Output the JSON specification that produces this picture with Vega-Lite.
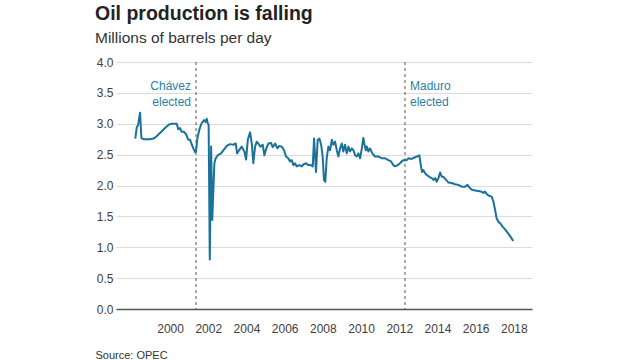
{
  "$schema": "https://vega.github.io/schema/vega-lite/v6.json",
  "autosize": {"type": "none"},
  "padding": {"left": 116, "top": 62, "right": 108, "bottom": 51},
  "width": 416,
  "height": 247,
  "background": "white",
  "config": {
    "font": "Liberation Sans",
    "view": {"stroke": null}
  },
  "title": {
    "text": "Oil production is falling",
    "subtitle": "Millions of barrels per day",
    "anchor": "start",
    "frame": "group",
    "dx": -21,
    "offset": 9,
    "font": "Liberation Sans",
    "fontSize": 19.5,
    "fontWeight": "bold",
    "color": "#222222",
    "subtitleFont": "Liberation Sans",
    "subtitleFontSize": 15.5,
    "subtitleColor": "#333333",
    "subtitlePadding": 6
  },
  "encoding": {
    "x": {
      "field": "year",
      "type": "quantitative",
      "scale": {"domain": [1997.17, 2018.95], "nice": false, "zero": false},
      "axis": {
        "values": [2000, 2002, 2004, 2006, 2008, 2010, 2012, 2014, 2016, 2018],
        "format": "d",
        "grid": false,
        "ticks": false,
        "domainColor": "#555555",
        "domainWidth": 1.5,
        "labelFontSize": 12,
        "labelColor": "#404040",
        "labelPadding": 14,
        "title": "Source: OPEC",
        "titleAnchor": "start",
        "titleAlign": "left",
        "titleX": -21,
        "titleY": 49,
        "titleBaseline": "alphabetic",
        "titleFontSize": 11,
        "titleFontWeight": "normal",
        "titleColor": "#333333"
      }
    },
    "y": {
      "field": "value",
      "type": "quantitative",
      "scale": {"domain": [0, 4], "nice": false},
      "axis": {
        "values": [0, 0.5, 1, 1.5, 2, 2.5, 3, 3.5, 4],
        "format": ".1f",
        "grid": true,
        "gridColor": "#dcdcdc",
        "domain": false,
        "ticks": false,
        "labelFontSize": 12,
        "labelColor": "#404040",
        "labelPadding": 3,
        "title": null
      }
    }
  },
  "layer": [
    {
      "data": {"values": [
        {"event": "Chávez elected", "year": 2001.36, "label": "Chávez\nelected", "pos": 3.61},
        {"event": "Maduro elected", "year": 2012.3, "label": "Maduro\nelected", "pos": 3.61}
      ]},
      "mark": {"type": "rule", "color": "#555555", "strokeDash": [3, 3], "strokeWidth": 1},
      "encoding": {"x": {"field": "year", "type": "quantitative"}, "y": null}
    },
    {
      "data": {"values": [
        {"event": "Chávez elected", "year": 2001.36, "label": "Chávez\nelected", "pos": 3.61}
      ]},
      "mark": {"type": "text", "align": "right", "dx": -5, "baseline": "middle", "fontSize": 12, "lineHeight": 16, "lineBreak": "\n", "color": "#2b7fa6"},
      "encoding": {"x": {"field": "year", "type": "quantitative"}, "y": {"field": "pos", "type": "quantitative"}, "text": {"field": "label", "type": "nominal"}}
    },
    {
      "data": {"values": [
        {"event": "Maduro elected", "year": 2012.3, "label": "Maduro\nelected", "pos": 3.61}
      ]},
      "mark": {"type": "text", "align": "left", "dx": 5, "baseline": "middle", "fontSize": 12, "lineHeight": 16, "lineBreak": "\n", "color": "#2b7fa6"},
      "encoding": {"x": {"field": "year", "type": "quantitative"}, "y": {"field": "pos", "type": "quantitative"}, "text": {"field": "label", "type": "nominal"}}
    },
    {
      "data": {"values": [
        {"year": 1998.18, "value": 2.76}, {"year": 1998.26, "value": 2.95}, {"year": 1998.32, "value": 2.97},
        {"year": 1998.43, "value": 3.18}, {"year": 1998.50, "value": 2.77}, {"year": 1998.60, "value": 2.75},
        {"year": 1998.95, "value": 2.75}, {"year": 1999.13, "value": 2.76}, {"year": 1999.27, "value": 2.79},
        {"year": 1999.57, "value": 2.88}, {"year": 1999.74, "value": 2.93}, {"year": 1999.96, "value": 2.99},
        {"year": 2000.09, "value": 3.0}, {"year": 2000.26, "value": 3.0}, {"year": 2000.35, "value": 3.0},
        {"year": 2000.43, "value": 2.91}, {"year": 2000.52, "value": 2.93}, {"year": 2000.61, "value": 2.87},
        {"year": 2000.73, "value": 2.87}, {"year": 2000.84, "value": 2.83}, {"year": 2000.96, "value": 2.74},
        {"year": 2001.05, "value": 2.74}, {"year": 2001.14, "value": 2.66}, {"year": 2001.22, "value": 2.6},
        {"year": 2001.31, "value": 2.54}, {"year": 2001.36, "value": 2.55}, {"year": 2001.43, "value": 2.76},
        {"year": 2001.53, "value": 2.9}, {"year": 2001.64, "value": 3.0}, {"year": 2001.78, "value": 3.06},
        {"year": 2001.86, "value": 3.03}, {"year": 2001.92, "value": 3.08}, {"year": 2001.97, "value": 3.01},
        {"year": 2002.02, "value": 2.98}, {"year": 2002.08, "value": 0.8}, {"year": 2002.15, "value": 2.63},
        {"year": 2002.21, "value": 1.44}, {"year": 2002.32, "value": 2.36}, {"year": 2002.39, "value": 2.44},
        {"year": 2002.5, "value": 2.49}, {"year": 2002.67, "value": 2.52}, {"year": 2002.79, "value": 2.57},
        {"year": 2002.97, "value": 2.64}, {"year": 2003.14, "value": 2.67}, {"year": 2003.31, "value": 2.66},
        {"year": 2003.44, "value": 2.68}, {"year": 2003.51, "value": 2.52}, {"year": 2003.61, "value": 2.57},
        {"year": 2003.75, "value": 2.63}, {"year": 2003.89, "value": 2.55}, {"year": 2003.98, "value": 2.42},
        {"year": 2004.07, "value": 2.74}, {"year": 2004.19, "value": 2.86}, {"year": 2004.28, "value": 2.68},
        {"year": 2004.36, "value": 2.36}, {"year": 2004.45, "value": 2.63}, {"year": 2004.54, "value": 2.71},
        {"year": 2004.62, "value": 2.68}, {"year": 2004.73, "value": 2.63}, {"year": 2004.85, "value": 2.66},
        {"year": 2004.94, "value": 2.49}, {"year": 2005.04, "value": 2.6}, {"year": 2005.15, "value": 2.68},
        {"year": 2005.29, "value": 2.69}, {"year": 2005.37, "value": 2.62}, {"year": 2005.5, "value": 2.68},
        {"year": 2005.62, "value": 2.6}, {"year": 2005.72, "value": 2.64}, {"year": 2005.85, "value": 2.63},
        {"year": 2005.97, "value": 2.57}, {"year": 2006.07, "value": 2.47}, {"year": 2006.19, "value": 2.44},
        {"year": 2006.28, "value": 2.39}, {"year": 2006.37, "value": 2.41}, {"year": 2006.46, "value": 2.33},
        {"year": 2006.54, "value": 2.36}, {"year": 2006.63, "value": 2.31}, {"year": 2006.77, "value": 2.33},
        {"year": 2006.9, "value": 2.31}, {"year": 2006.98, "value": 2.34}, {"year": 2007.12, "value": 2.36},
        {"year": 2007.24, "value": 2.33}, {"year": 2007.37, "value": 2.33}, {"year": 2007.47, "value": 2.31},
        {"year": 2007.54, "value": 2.76}, {"year": 2007.61, "value": 2.39}, {"year": 2007.64, "value": 2.22},
        {"year": 2007.73, "value": 2.74}, {"year": 2007.82, "value": 2.76}, {"year": 2007.91, "value": 2.66},
        {"year": 2007.99, "value": 2.47}, {"year": 2008.06, "value": 2.09}, {"year": 2008.13, "value": 2.06},
        {"year": 2008.2, "value": 2.44}, {"year": 2008.29, "value": 2.63}, {"year": 2008.38, "value": 2.57},
        {"year": 2008.47, "value": 2.74}, {"year": 2008.55, "value": 2.66}, {"year": 2008.64, "value": 2.71},
        {"year": 2008.73, "value": 2.57}, {"year": 2008.81, "value": 2.47}, {"year": 2008.9, "value": 2.6},
        {"year": 2008.99, "value": 2.68}, {"year": 2009.07, "value": 2.55}, {"year": 2009.16, "value": 2.66},
        {"year": 2009.25, "value": 2.52}, {"year": 2009.34, "value": 2.63}, {"year": 2009.42, "value": 2.55},
        {"year": 2009.51, "value": 2.6}, {"year": 2009.6, "value": 2.57}, {"year": 2009.69, "value": 2.49},
        {"year": 2009.77, "value": 2.47}, {"year": 2009.86, "value": 2.52}, {"year": 2009.95, "value": 2.44},
        {"year": 2010.04, "value": 2.6}, {"year": 2010.12, "value": 2.77}, {"year": 2010.17, "value": 2.68},
        {"year": 2010.25, "value": 2.57}, {"year": 2010.31, "value": 2.63}, {"year": 2010.38, "value": 2.55},
        {"year": 2010.47, "value": 2.6}, {"year": 2010.59, "value": 2.52}, {"year": 2010.73, "value": 2.47},
        {"year": 2010.91, "value": 2.47}, {"year": 2011.08, "value": 2.44}, {"year": 2011.26, "value": 2.44},
        {"year": 2011.43, "value": 2.41}, {"year": 2011.57, "value": 2.39}, {"year": 2011.69, "value": 2.33},
        {"year": 2011.78, "value": 2.31}, {"year": 2011.92, "value": 2.33}, {"year": 2012.04, "value": 2.36},
        {"year": 2012.13, "value": 2.39}, {"year": 2012.22, "value": 2.41}, {"year": 2012.39, "value": 2.41},
        {"year": 2012.48, "value": 2.44}, {"year": 2012.65, "value": 2.43}, {"year": 2012.77, "value": 2.45},
        {"year": 2012.92, "value": 2.47}, {"year": 2013.0, "value": 2.48}, {"year": 2013.05, "value": 2.49},
        {"year": 2013.13, "value": 2.33}, {"year": 2013.19, "value": 2.22}, {"year": 2013.26, "value": 2.25},
        {"year": 2013.35, "value": 2.2}, {"year": 2013.44, "value": 2.17}, {"year": 2013.58, "value": 2.14},
        {"year": 2013.7, "value": 2.12}, {"year": 2013.79, "value": 2.09}, {"year": 2013.89, "value": 2.12},
        {"year": 2013.96, "value": 2.06}, {"year": 2014.05, "value": 2.12}, {"year": 2014.14, "value": 2.21},
        {"year": 2014.23, "value": 2.14}, {"year": 2014.31, "value": 2.14}, {"year": 2014.45, "value": 2.09},
        {"year": 2014.57, "value": 2.05}, {"year": 2014.75, "value": 2.04}, {"year": 2014.92, "value": 2.02},
        {"year": 2015.09, "value": 2.01}, {"year": 2015.27, "value": 1.98}, {"year": 2015.45, "value": 1.98},
        {"year": 2015.57, "value": 2.01}, {"year": 2015.67, "value": 1.97}, {"year": 2015.8, "value": 1.93},
        {"year": 2015.97, "value": 1.92}, {"year": 2016.14, "value": 1.91}, {"year": 2016.32, "value": 1.9},
        {"year": 2016.4, "value": 1.88}, {"year": 2016.49, "value": 1.9}, {"year": 2016.58, "value": 1.86},
        {"year": 2016.72, "value": 1.83}, {"year": 2016.84, "value": 1.82}, {"year": 2016.93, "value": 1.74},
        {"year": 2017.02, "value": 1.6}, {"year": 2017.1, "value": 1.47}, {"year": 2017.19, "value": 1.41},
        {"year": 2017.28, "value": 1.39}, {"year": 2017.42, "value": 1.33}, {"year": 2017.54, "value": 1.29},
        {"year": 2017.66, "value": 1.24}, {"year": 2017.76, "value": 1.2}, {"year": 2017.89, "value": 1.14},
        {"year": 2017.97, "value": 1.1}
      ]},
      "mark": {"type": "line", "color": "#1b7199", "strokeWidth": 2, "strokeJoin": "round"},
      "encoding": {}
    }
  ]
}
